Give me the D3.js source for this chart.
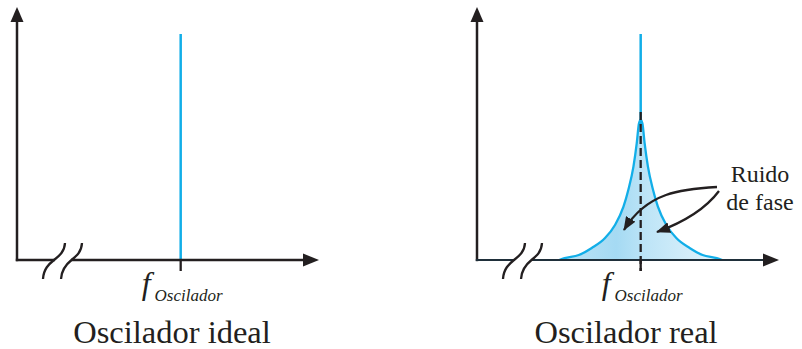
<!DOCTYPE html>
<html>
<head>
<meta charset="utf-8">
<script src="https://cdn.jsdelivr.net/npm/d3@7"></script>
<style>
body{margin:0;background:#fff;}
</style>
</head>
<body>
<svg id="drawing_region"></svg>
<script>
// panel titles and labels
const panelTitles = ["Oscilador ideal", "Oscilador real"];
const carrierLabel = "f";
const carrierSub = "Oscilador";
const noiseLabel = ["Ruido", "de fase"];

// frequency axis runs 0..10 (arbitrary units), carrier position
const freqDomain = [0, 10];
const carrierFreq = 5.42;
const carrierLevel = 1.0;

// phase noise skirt: offset from carrier vs level (same on both sides)
const noiseOffset = [0, 0.056, 0.13, 0.24, 0.41, 0.57, 0.85, 1.18, 1.62, 2.05, 2.52, 2.7];
const noiseLevel  = [0.62, 0.605, 0.517, 0.413, 0.31, 0.236, 0.155, 0.097, 0.053, 0.022, 0.008, 0];
const dashTop = 0.655;

const blue = "#12aee8";
const ink = "#231f20";
const serif = "\"Liberation Serif\"";

const svg = d3.select("#drawing_region")
    .attr("width",802)
    .attr("height",349);

function label(g, x, y, size, txt){
    return g.append("text").attr("x",x).attr("y",y)
        .style("font-family",serif).style("font-size",size)
        .attr("fill",ink).text(txt);
}

const defs = svg.append("defs");
const grad = defs.append("linearGradient")
    .attr("id","noiseFill")
    .attr("x1","0%").attr("x2","100%").attr("y1","0%").attr("y2","0%");
grad.append("stop").attr("offset","0%").attr("stop-color","#bde4f6");
grad.append("stop").attr("offset","35%").attr("stop-color","#a5daf3");
grad.append("stop").attr("offset","55%").attr("stop-color","#bfe5f7");
grad.append("stop").attr("offset","100%").attr("stop-color","#e4f4fc");

defs.append("marker")
    .attr("id","head")
    .attr("viewBox","0 0 14 11")
    .attr("refX",13).attr("refY",5.5)
    .attr("markerWidth",14).attr("markerHeight",11)
    .attr("markerUnits","userSpaceOnUse")
    .attr("orient","auto")
    .append("path")
    .attr("d","M0,0 L14,5.5 L0,11 Z")
    .attr("fill",ink);

function drawPanel(x0, title, real){
    const g = svg.append("g").attr("transform",`translate(${x0},0)`);
    const axisY = 260, axisLen = 302;

    const xscale = d3.scaleLinear().domain(freqDomain).range([0,axisLen]);
    const yscale = d3.scaleLinear().domain([0,carrierLevel]).range([axisY,34]);

    // noise skirt
    if(real){
        const pts = [];
        for(let i=noiseOffset.length-1;i>=0;i--) pts.push([carrierFreq-noiseOffset[i], noiseLevel[i]]);
        for(let i=1;i<noiseOffset.length;i++) pts.push([carrierFreq+noiseOffset[i], noiseLevel[i]]);
        const area = d3.area()
            .x(d=>xscale(d[0]))
            .y0(yscale(0))
            .y1(d=>yscale(d[1]))
            .curve(d3.curveMonotoneX);
        const line = d3.line()
            .x(d=>xscale(d[0]))
            .y(d=>yscale(d[1]))
            .curve(d3.curveMonotoneX);
        g.append("path").attr("d",area(pts)).attr("fill","url(#noiseFill)");
        g.append("path").attr("d",line(pts))
            .attr("fill","none").attr("stroke",blue).attr("stroke-width",2.3);
    }

    // carrier
    g.append("line")
        .attr("x1",xscale(carrierFreq)).attr("x2",xscale(carrierFreq))
        .attr("y1",yscale(real?noiseLevel[0]-0.02:0)).attr("y2",yscale(carrierLevel))
        .attr("stroke",blue).attr("stroke-width",2.5);

    // axes
    g.append("line").attr("x1",0).attr("x2",0).attr("y1",axisY+1.2).attr("y2",20)
        .attr("stroke",ink).attr("stroke-width",2.5);
    g.append("path").attr("d","M-6.5,22 L0,7 L6.5,22 Z").attr("fill",ink);
    g.append("line").attr("x1",-1.2).attr("x2",axisLen-14).attr("y1",axisY).attr("y2",axisY)
        .attr("stroke",real?"#1f2f3a":ink).attr("stroke-width",real?2.2:2.5);
    g.append("path").attr("d",`M${axisLen-16},${axisY-6.5} L${axisLen},${axisY} L${axisLen-16},${axisY+6.5} Z`)
        .attr("fill",ink);

    // axis break
    g.append("rect").attr("x",38).attr("y",axisY-3).attr("width",16).attr("height",6).attr("fill","#fff");
    [[26,48],[44,65]].forEach(([a,b])=>{
        const m = (a+b)/2;
        g.append("path")
            .attr("d",`M${a},${axisY+19} C${a+0.5},${axisY+9} ${m-5},${axisY+4} ${m},${axisY} S${b-0.5},${axisY-8} ${b},${axisY-17}`)
            .attr("fill","none").attr("stroke",ink).attr("stroke-width",2.3);
    });

    // tick / dashed marker at carrier
    const cx = xscale(carrierFreq);
    if(real){
        g.append("line").attr("x1",cx).attr("x2",cx)
            .attr("y1",yscale(dashTop)).attr("y2",axisY+11)
            .attr("stroke",ink).attr("stroke-width",2.3)
            .attr("stroke-dasharray","8,4");
    }
    g.append("line").attr("x1",cx).attr("x2",cx).attr("y1",axisY).attr("y2",axisY+11)
        .attr("stroke",ink).attr("stroke-width",2.3);

    // carrier label
    const lab = g.append("text").attr("x",cx-39).attr("y",294)
        .style("font-family",serif).attr("fill",ink);
    lab.append("tspan").style("font-family",serif).style("font-style","italic").style("font-size","32px").text(carrierLabel);
    lab.append("tspan").style("font-family",serif).style("font-style","italic").style("font-size","17px").attr("dx",4).attr("dy",7).text(carrierSub);

    // title
    label(g, real?149:155, 343, "32.5px", title).attr("text-anchor","middle");

    if(real){
        label(g, 283, 182, "24px", noiseLabel[0]).attr("text-anchor","middle");
        label(g, 283, 210, "24px", noiseLabel[1]).attr("text-anchor","middle");
        g.append("path").attr("d","M240,187 C205,189 170,192 147,230")
            .attr("fill","none").attr("stroke",ink).attr("stroke-width",2.3)
            .attr("marker-end","url(#head)");
        g.append("path").attr("d","M242,191 C230,207 210,221 180,232")
            .attr("fill","none").attr("stroke",ink).attr("stroke-width",2.3)
            .attr("marker-end","url(#head)");
    }
}

drawPanel(17, panelTitles[0], false);
drawPanel(477, panelTitles[1], true);
</script>
</body>
</html>
